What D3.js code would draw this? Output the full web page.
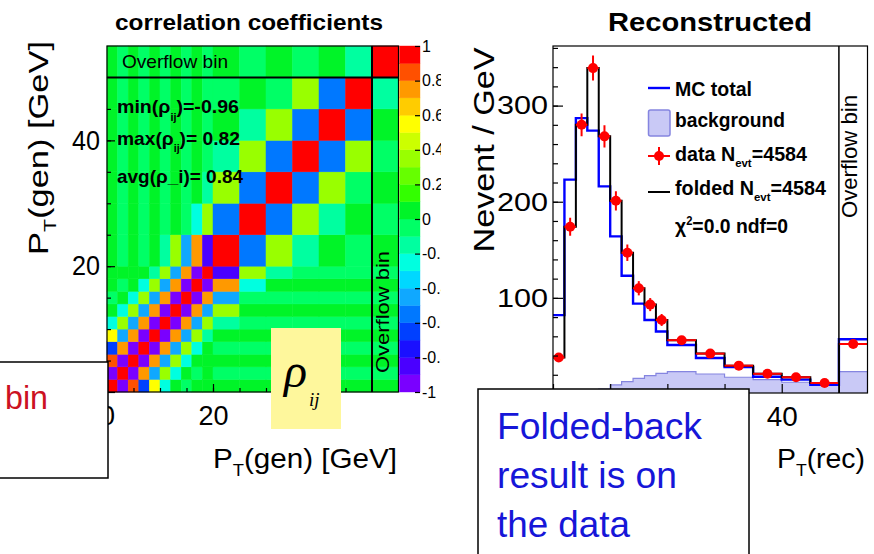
<!DOCTYPE html>
<html>
<head>
<meta charset="utf-8">
<script src="https://cdn.jsdelivr.net/npm/d3@7"></script>
<style>
  html, body { margin: 0; padding: 0; background: #fff; }
  svg { display: block; font-family: "Liberation Sans", Arial, Helvetica, sans-serif; }
</style>
</head>
<body>
<svg id="chart" width="874" height="554"></svg>
<script>
// ---- data ----
// generator binning (last bin = overflow)
const genEdges = [0, 2, 4, 6, 8, 10, 12, 14, 16, 18, 20, 25, 30, 35, 40, 45, 50, 55];
// correlation coefficients, row = y bin (from bottom), column = x bin
const corr = [
  [1, -0.96, 0.82, -0.65, 0.52, -0.28, 0.08, -0.06, 0.05, 0.02, 0.05, 0.05, 0.05, 0.05, 0.05, 0.05, 0.04],
  [-0.96, 1, -0.93, 0.72, -0.45, 0.35, -0.28, 0.06, -0.02, 0.04, -0.04, -0.04, -0.04, -0.04, -0.04, -0.04, -0.03],
  [0.82, -0.93, 1, -0.93, 0.72, -0.45, 0.35, -0.25, 0.05, 0.03, 0.05, 0.05, 0.05, 0.05, 0.05, 0.05, 0.04],
  [-0.65, 0.72, -0.93, 1, -0.92, 0.72, -0.45, 0.35, -0.22, 0.06, -0.04, -0.04, -0.04, -0.04, -0.04, -0.04, -0.03],
  [0.52, -0.45, 0.72, -0.92, 1, -0.92, 0.72, -0.45, 0.35, -0.2, 0.05, 0.05, 0.05, 0.05, 0.05, 0.05, 0.04],
  [-0.28, 0.35, -0.45, 0.72, -0.92, 1, -0.92, 0.72, -0.45, 0.35, -0.12, -0.04, -0.04, -0.04, -0.04, -0.04, -0.03],
  [0.08, -0.28, 0.35, -0.45, 0.72, -0.92, 1, -0.92, 0.72, -0.45, 0.35, 0.05, 0.05, 0.05, 0.05, 0.05, 0.04],
  [-0.06, 0.06, -0.25, 0.35, -0.45, 0.72, -0.92, 1, -0.92, 0.72, -0.45, -0.06, -0.04, -0.04, -0.04, -0.04, -0.03],
  [0.05, -0.02, 0.05, -0.22, 0.35, -0.45, 0.72, -0.92, 1, -0.92, 0.72, -0.22, 0.05, 0.05, 0.05, 0.05, 0.04],
  [0.02, 0.04, 0.03, 0.06, -0.2, 0.35, -0.45, 0.72, -0.92, 1, -0.86, 0.35, -0.12, -0.04, -0.04, -0.04, -0.03],
  [0.05, -0.04, 0.05, -0.04, 0.05, -0.12, 0.35, -0.45, 0.72, -0.86, 1, -0.55, 0.35, -0.12, 0.05, -0.1, 0.05],
  [0.05, -0.04, 0.05, -0.04, 0.05, -0.04, 0.05, -0.06, -0.22, 0.35, -0.55, 1, -0.56, 0.35, -0.12, 0.05, -0.1],
  [0.05, -0.04, 0.05, -0.04, 0.05, -0.04, 0.05, -0.04, 0.05, -0.12, 0.35, -0.56, 1, -0.56, 0.35, -0.1, 0.05],
  [0.05, -0.04, 0.05, -0.04, 0.05, -0.04, 0.05, -0.04, 0.05, -0.04, -0.12, 0.35, -0.56, 1, -0.56, 0.35, -0.1],
  [0.05, -0.04, 0.05, -0.04, 0.05, -0.04, 0.05, -0.04, 0.05, -0.04, 0.05, -0.12, 0.35, -0.56, 1, -0.56, 0.05],
  [0.05, -0.04, 0.05, -0.04, 0.05, -0.04, 0.05, -0.04, 0.05, -0.04, -0.1, 0.05, -0.1, 0.35, -0.56, 1, -0.18],
  [0.04, -0.03, 0.04, -0.03, 0.04, -0.03, 0.04, -0.03, 0.04, -0.03, 0.05, -0.1, 0.05, -0.1, 0.05, -0.18, 1]
];
// colour palette of the z axis, from -1 to 1
const palette = ["#7a00ff", "#4a00ff", "#1a10ff", "#0040ff", "#0078ff", "#10a8ff", "#00d8ff",
  "#00ffe0", "#00ffa0", "#00ff66", "#00f428", "#33ff00", "#66ff00", "#99ff00", "#ccff00",
  "#ffff00", "#ffcc00", "#ff9900", "#ff5000", "#ff0000"];
const zTicks = [1, 0.8, 0.6, 0.4, 0.2, 0, -0.2, -0.4, -0.6, -0.8, -1];
const genXLabels = [0, 20];
const genYLabels = [20, 40];

// reconstructed binning (last bin = overflow), Nevent / GeV
const recEdges = [0, 2, 4, 6, 8, 10, 12, 14, 16, 18, 20, 25, 30, 35, 40, 45, 50, 55];
const dataVals = [38, 174, 280, 339, 268, 201, 147, 110, 93, 77, 56, 42, 29.5, 21, 17.5, 11.5, 52];
const dataErr = [4.4, 9.3, 11.8, 13, 11.6, 10, 8.6, 7.4, 6.8, 6.2, 3.4, 2.9, 2.4, 2.0, 1.9, 1.5, 3.2];
const foldedVals = [38, 174, 280, 339, 268, 201, 147, 110, 93, 77, 56, 42, 29.5, 21, 17.5, 11.5, 52];
const mcVals = [82, 223, 287, 274, 216, 164, 123, 94, 77, 65, 51, 37.5, 28, 18, 15, 9.5, 57];
const bgVals = [0.5, 1, 2, 3.5, 5.2, 9.4, 12.9, 16.3, 19.1, 21.5, 23.3, 20.8, 17.4, 15, 12.2, 11.1, 23.3];
const recLabels = [40];
const nevLabels = [100, 200, 300];

const svg = d3.select("#chart");

// small helper for text with sub/superscripts
function richText(g, x, y, parts, o) {
  const t = g.append("text").attr("x", x).attr("y", y)
    .attr("font-size", o.size).attr("fill", o.color || "#000");
  if (o.bold) t.attr("font-weight", "bold");
  if (o.italic) t.attr("font-style", "italic");
  if (o.family) t.attr("font-family", o.family);
  if (o.anchor) t.attr("text-anchor", o.anchor);
  if (o.transform) t.attr("transform", o.transform);
  let shift = 0;
  parts.forEach(p => {
    const txt = typeof p === "string" ? p : p[0];
    const kind = typeof p === "string" ? "n" : p[1];
    let target = 0;
    if (kind === "sub") target = o.size * (o.subShift || 0.3);
    if (kind === "sup") target = -o.size * 0.38;
    const s = t.append("tspan").attr("dy", target - shift).text(txt);
    if (kind !== "n") s.attr("font-size", o.size * (o.subSize || 0.62));
    shift = target;
  });
  if (o.len) t.attr("textLength", o.len).attr("lengthAdjust", "spacingAndGlyphs");
  return t;
}

// ================= left panel: correlation matrix =================
const xL = d3.scaleLinear().domain([0, 55]).range([107, 398.5]);
const yL = d3.scaleLinear().domain([0, 55]).range([392, 46]);
const color = d3.scaleQuantize().domain([-1, 1]).range(palette);

const gL = svg.append("g");
const cells = [];
corr.forEach((row, i) => row.forEach((v, j) => cells.push({ i, j, v })));

gL.selectAll("rect.cell")
  .data(cells)
  .join("rect")
  .attr("class", "cell")
  .attr("x", d => xL(genEdges[d.j]))
  .attr("y", d => yL(genEdges[d.i + 1]))
  .attr("width", d => xL(genEdges[d.j + 1]) - xL(genEdges[d.j]))
  .attr("height", d => yL(genEdges[d.i]) - yL(genEdges[d.i + 1]))
  .attr("fill", d => color(d.v))
  .attr("stroke", d => color(d.v))
  .attr("stroke-width", 0.5);

// overflow separators and frame
gL.append("line")
  .attr("x1", xL(50)).attr("x2", xL(50)).attr("y1", yL(0)).attr("y2", yL(55))
  .attr("stroke", "#000").attr("stroke-width", 2);
gL.append("line")
  .attr("x1", xL(0)).attr("x2", xL(55)).attr("y1", yL(50)).attr("y2", yL(50))
  .attr("stroke", "#000").attr("stroke-width", 2);
gL.append("rect")
  .attr("x", xL(0)).attr("y", yL(55))
  .attr("width", xL(55) - xL(0)).attr("height", yL(0) - yL(55))
  .attr("fill", "none").attr("stroke", "#000").attr("stroke-width", 1.2);

// axes (ROOT style: ticks inside)
function styleAxis(sel, size, len) {
  sel.select(".domain").remove();
  sel.selectAll("line").attr("stroke", "#000").attr("stroke-width", 1.2);
  sel.selectAll("text")
    .attr("font-family", "Liberation Sans, Arial, sans-serif")
    .attr("font-size", size).attr("fill", "#000");
  if (len) sel.selectAll("text").attr("textLength", len).attr("lengthAdjust", "spacingAndGlyphs");
}
gL.append("g").attr("transform", `translate(${xL(0)},0)`)
  .call(d3.axisLeft(yL).tickValues(d3.range(5, 50, 5)).tickSizeInner(-4).tickSizeOuter(0).tickFormat(""))
  .call(s => styleAxis(s, 0));
gL.append("g").attr("transform", `translate(${xL(0)},0)`)
  .call(d3.axisLeft(yL).tickValues([0, 20, 40]).tickSizeInner(-8).tickSizeOuter(0).tickPadding(7)
    .tickFormat(d => genYLabels.includes(d) ? d : ""))
  .call(s => styleAxis(s, 27, 28));
gL.append("g").attr("transform", `translate(0,${yL(0)})`)
  .call(d3.axisBottom(xL).tickValues(d3.range(5, 50, 5)).tickSizeInner(-4).tickSizeOuter(0).tickFormat(""))
  .call(s => styleAxis(s, 0));
gL.append("g").attr("transform", `translate(0,${yL(0)})`)
  .call(d3.axisBottom(xL).tickValues([0, 20, 40]).tickSizeInner(-8).tickSizeOuter(0).tickPadding(14)
    .tickFormat(d => genXLabels.includes(d) ? d : ""))
  .call(s => styleAxis(s, 27));
gL.selectAll("text").filter(function () { return this.textContent === ""; }).remove();

// statistics text
const statOpt = { size: 19, bold: true, subShift: 0.42, subSize: 0.55 };
richText(gL, 117, 113, ["min(ρ", ["ij", "sub"], ")=-0.96"], { ...statOpt, len: 122 });
richText(gL, 117, 144.5, ["max(ρ", ["ij", "sub"], ")= 0.82"], { ...statOpt, len: 123 });
richText(gL, 117, 183, ["avg(ρ_i)= 0.84"], { ...statOpt, len: 126 });
richText(gL, 122, 68, ["Overflow bin"], { size: 19, len: 106 });
richText(gL, 0, 0, ["Overflow bin"], { size: 18, len: 122, transform: `translate(389,373) rotate(-90)` });

// colour bar
const zS = d3.scaleLinear().domain([-1, 1]).range([392, 46]);
gL.selectAll("rect.band")
  .data(palette)
  .join("rect")
  .attr("class", "band")
  .attr("x", 399.5).attr("width", 20.5)
  .attr("y", c => zS(color.invertExtent(c)[1]))
  .attr("height", c => zS(color.invertExtent(c)[0]) - zS(color.invertExtent(c)[1]))
  .attr("fill", c => c).attr("stroke", c => c).attr("stroke-width", 0.4);
gL.append("g").attr("transform", "translate(420,0)")
  .call(d3.axisRight(zS).tickValues(zTicks).tickSizeInner(-5).tickSizeOuter(0).tickPadding(2).tickFormat(d => String(d)))
  .call(s => styleAxis(s, 16));

// titles and axis titles
richText(svg, 249, 30, ["correlation coefficients"], { size: 22, bold: true, anchor: "middle", len: 268 });
richText(svg, 0, 0, ["P", ["T", "sub"], "(gen) [GeV]"], { size: 28, anchor: "middle", len: 214, transform: "translate(48,148) rotate(-90)" });
richText(svg, 213, 468, ["P", ["T", "sub"], "(gen) [GeV]"], { size: 28, len: 184 });

// the right panel starts with a white canvas that hides part of the z labels
svg.append("rect").attr("x", 441).attr("y", 0).attr("width", 433).attr("height", 554).attr("fill", "#fff");

// ================= right panel: reconstructed =================
const xR = d3.scaleLinear().domain([0, 55]).range([553, 867.5]);
const yR = d3.scaleLinear().domain([0, 362]).range([394, 46]);
const gR = svg.append("g");

svg.append("clipPath").attr("id", "frameR")
  .append("rect").attr("x", 553).attr("y", 46).attr("width", 314.5).attr("height", 347);
const plotR = gR.append("g").attr("clip-path", "url(#frameR)");

const stepPts = vals => recEdges.map((e, k) => [e, vals[Math.min(k, vals.length - 1)]]);
const stepLine = d3.line().curve(d3.curveStepAfter).x(d => xR(d[0])).y(d => yR(d[1]));
const stepArea = d3.area().curve(d3.curveStepAfter).x(d => xR(d[0])).y0(yR(0)).y1(d => yR(d[1]));

plotR.append("path").datum(stepPts(bgVals))
  .attr("d", stepArea).attr("fill", "#c9c9f6").attr("stroke", "#8585e0").attr("stroke-width", 1.2);
plotR.append("path").datum(stepPts(mcVals))
  .attr("d", stepLine).attr("fill", "none").attr("stroke", "#0000ff").attr("stroke-width", 2.4);
plotR.append("path").datum(stepPts(foldedVals))
  .attr("d", stepLine).attr("fill", "none").attr("stroke", "#000").attr("stroke-width", 2);

const pts = dataVals.map((v, k) => ({ v, e: dataErr[k], lo: recEdges[k], hi: recEdges[k + 1] }));
plotR.selectAll("line.xerr").data(pts).join("line").attr("class", "xerr")
  .attr("x1", d => xR(d.lo)).attr("x2", d => xR(d.hi))
  .attr("y1", d => yR(d.v)).attr("y2", d => yR(d.v))
  .attr("stroke", "#ff0000").attr("stroke-width", 2);
plotR.selectAll("line.yerr").data(pts).join("line").attr("class", "yerr")
  .attr("x1", d => xR((d.lo + d.hi) / 2)).attr("x2", d => xR((d.lo + d.hi) / 2))
  .attr("y1", d => yR(d.v - d.e)).attr("y2", d => yR(d.v + d.e))
  .attr("stroke", "#ff0000").attr("stroke-width", 2);
plotR.selectAll("circle.pt").data(pts).join("circle").attr("class", "pt")
  .attr("cx", d => xR((d.lo + d.hi) / 2)).attr("cy", d => yR(d.v))
  .attr("r", 5).attr("fill", "#ff0000");

// frame, overflow separator, axes
gR.append("line")
  .attr("x1", xR(50)).attr("x2", xR(50)).attr("y1", 46).attr("y2", 393)
  .attr("stroke", "#000").attr("stroke-width", 1.5);
gR.append("rect").attr("x", 553).attr("y", 46).attr("width", 314.5).attr("height", 347)
  .attr("fill", "none").attr("stroke", "#000").attr("stroke-width", 1.2);

gR.append("g").attr("transform", "translate(553,0)")
  .call(d3.axisLeft(yR).tickValues(d3.range(20, 361, 20)).tickSizeInner(-5).tickSizeOuter(0).tickFormat(""))
  .call(s => styleAxis(s, 0));
gR.append("g").attr("transform", "translate(553,0)")
  .call(d3.axisLeft(yR).tickValues(nevLabels).tickSizeInner(-10).tickSizeOuter(0).tickPadding(5))
  .call(s => styleAxis(s, 26, 51));
gR.append("g").attr("class", "xaxisR").attr("transform", "translate(0,393)")
  .call(d3.axisBottom(xR).tickValues(d3.range(0, 51, 10)).tickSizeInner(-9).tickSizeOuter(0)
    .tickPadding(14).tickFormat(d => recLabels.includes(d) ? d : ""))
  .call(s => styleAxis(s, 27, 31));
gR.select(".xaxisR").selectAll("text").filter(function () { return this.textContent === ""; }).remove();

richText(svg, 710, 31, ["Reconstructed"], { size: 25, bold: true, anchor: "middle", len: 204 });
richText(svg, 0, 0, ["Nevent / GeV"], { size: 30, anchor: "middle", len: 205, transform: "translate(494,150) rotate(-90)" });
richText(svg, 777, 468, ["P", ["T", "sub"], "(rec)"], { size: 28, len: 88 });
richText(gR, 0, 0, ["Overflow bin"], { size: 22, len: 123, transform: "translate(857,218) rotate(-90)" });

// legend
const lg = gR.append("g");
lg.append("line").attr("x1", 648).attr("x2", 670).attr("y1", 88).attr("y2", 88)
  .attr("stroke", "#0000ff").attr("stroke-width", 2.4);
lg.append("rect").attr("x", 648.5).attr("y", 110).attr("width", 21.5).attr("height", 26).attr("rx", 2)
  .attr("fill", "#c9c9f6").attr("stroke", "#8585e0").attr("stroke-width", 1.5);
lg.append("line").attr("x1", 648).attr("x2", 670).attr("y1", 156).attr("y2", 156)
  .attr("stroke", "#ff0000").attr("stroke-width", 2);
lg.append("line").attr("x1", 659).attr("x2", 659).attr("y1", 147).attr("y2", 165)
  .attr("stroke", "#ff0000").attr("stroke-width", 2);
lg.append("circle").attr("cx", 659).attr("cy", 156).attr("r", 5).attr("fill", "#ff0000");
lg.append("line").attr("x1", 648).attr("x2", 670).attr("y1", 192).attr("y2", 192)
  .attr("stroke", "#000").attr("stroke-width", 2);
const legOpt = { size: 20, bold: true, subShift: 0.32, subSize: 0.58 };
richText(lg, 675, 95.5, ["MC total"], { ...legOpt, size: 21, len: 77 });
richText(lg, 675, 127, ["background"], { ...legOpt, size: 21, len: 110 });
richText(lg, 675, 160.5, ["data N", ["evt", "sub"], "=4584"], { ...legOpt, len: 132 });
richText(lg, 675, 195, ["folded N", ["evt", "sub"], "=4584"], { ...legOpt, len: 151 });
richText(lg, 675, 233, ["χ", ["2", "sup"], "=0.0 ndf=0"], { ...legOpt, size: 21, len: 113 });

// ================= slide overlays =================
svg.append("rect").attr("x", 271).attr("y", 328).attr("width", 70).attr("height", 101).attr("fill", "#fef79c");
richText(svg, 284, 387, ["ρ"], { size: 48, italic: true, family: "Liberation Serif, Times New Roman, serif" });
richText(svg, 309, 406, ["ij"], { size: 19, italic: true, family: "Liberation Serif, Times New Roman, serif" });

svg.append("rect").attr("x", -2).attr("y", 362).attr("width", 110).attr("height", 116)
  .attr("fill", "#fff").attr("stroke", "#000").attr("stroke-width", 1.5);
richText(svg, 5, 409, ["bin"], { size: 34, color: "#cc1122", len: 43 });

svg.append("rect").attr("x", 478).attr("y", 389).attr("width", 271).attr("height", 200)
  .attr("fill", "#fff").attr("stroke", "#000").attr("stroke-width", 1.5);
richText(svg, 497, 439, ["Folded-back"], { size: 36, color: "#1616d8", len: 205 });
richText(svg, 497, 488, ["result is on"], { size: 36, color: "#1616d8", len: 180 });
richText(svg, 497, 537, ["the data"], { size: 36, color: "#1616d8", len: 133 });
</script>
</body>
</html>
